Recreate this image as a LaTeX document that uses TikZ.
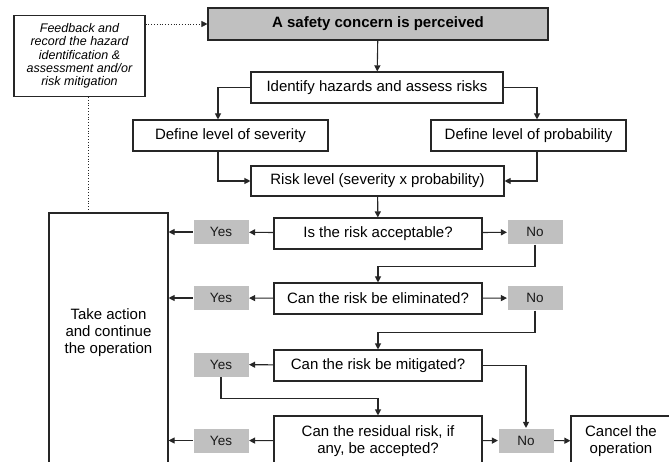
\documentclass[tikz,border=0pt]{standalone}
\usepackage{fontspec}
\setmainfont{Liberation Sans}
\usetikzlibrary{arrows.meta}
\definecolor{boxgray}{RGB}{192,192,192}

\begin{document}
\begin{tikzpicture}[x=1pt, y=-1pt, line width=1.1pt, draw=black!85, >={Triangle[length=6pt,width=6pt]},
        box/.style={draw, align=center, inner sep=0pt, font=\fontsize{15}{16.5}\selectfont},
        answer/.style={fill=boxgray, text=black!90, inner sep=0pt, minimum width=55pt, minimum height=24pt, font=\fontsize{13.5}{15}\selectfont},
        link/.style={draw, ->}]
        \useasboundingbox (0,0) rectangle (669,462);
        \clip (0,0) rectangle (669,462);

        \node[box, minimum width=131pt, minimum height=81pt, font=\fontsize{12.5}{13.3}\selectfont\itshape] (feedback) at (79.5,56) {Feedback and\\record the hazard\\identification \&\\assessment and/or\\risk mitigation};
        \node[box, fill=boxgray, minimum width=340pt, minimum height=32pt, font=\fontsize{15}{16.5}\selectfont\bfseries] (perceived) at (378,24) {A safety concern is perceived};
        \node[box, minimum width=252pt, minimum height=31pt] (identify) at (377,87.5) {Identify hazards and assess risks};
        \node[box, minimum width=195pt, minimum height=31pt] (severity) at (230.5,135.5) {Define level of severity};
        \node[box, minimum width=195pt, minimum height=31pt] (probability) at (528.5,135.5) {Define level of probability};
        \node[box, minimum width=253pt, minimum height=30pt] (risklevel) at (377.5,181) {Risk level (severity x probability)};

        \node[box, minimum width=208pt, minimum height=31pt] (acceptable) at (378,233.5) {Is the risk acceptable?};
        \node[box, minimum width=208pt, minimum height=31pt] (eliminated) at (378,298.5) {Can the risk be eliminated?};
        \node[box, minimum width=208pt, minimum height=31pt] (mitigated) at (378,365.5) {Can the risk be mitigated?};
        \node[box, minimum width=208pt, minimum height=50pt] (residual) at (378,441) {Can the residual risk, if\\any, be accepted?};
        \node[box, minimum width=100pt, minimum height=50pt] (cancel) at (621,441) {Cancel the\\operation};

        \node[box, minimum width=119pt, minimum height=260pt] (action) at (108.5,343) {};
        \node[align=center, font=\fontsize{15}{17}\selectfont] (actiontext) at (108.5,333) {Take action\\and continue\\the operation};

        \foreach \n/\y in {1/232, 2/298, 3/364.5, 4/440.5} \node[answer] (yes\n) at (221,\y) {Yes};
        \foreach \n/\x/\y in {1/535/232, 2/535/298, 3/526/440.5} \node[answer] (no\n) at (\x,\y) {No};

        \draw[->, dotted, line width=0.8pt] (feedback.east |- perceived.west) -- (perceived.west);
        \draw[dotted, line width=0.8pt] ([xshift=8.5pt]feedback.south) -- ([xshift=8.5pt]feedback.south |- action.north);

        \draw[link] (perceived) -- (identify);
        \draw[link] (identify.west) -| ([xshift=-12.5pt]severity.north);
        \draw[link] (identify.east) -| ([xshift=8.5pt]probability.north);
        \draw[link] ([xshift=-12.5pt]severity.south) |- (risklevel.west);
        \draw[link] ([xshift=8.5pt]probability.south) |- (risklevel.east);
        \draw[link] (risklevel) -- (acceptable);

        \draw[link] (acceptable) -- (yes1);
        \draw[link] (eliminated) -- (yes2);
        \draw[link] (mitigated) -- (yes3);
        \draw[link] (residual) -- (yes4);
        \foreach \n in {1, 2, 4} \draw[link] (yes\n.west) -- (yes\n.west -| action.east);

        \draw[link] (acceptable) -- (no1);
        \draw[link] (eliminated) -- (no2);
        \draw[link] (residual) -- (no3);
        \draw[link] (no1.south) -- ++(0,22) -| (eliminated.north);
        \draw[link] (no2.south) -- ++(0,22) -| (mitigated.north);
        \draw[link] (yes3.south) -- ++(0,21) -| (residual.north);
        \draw[link] (mitigated.east) -| (no3.north);
        \draw[link] (no3) -- (cancel);
    \end{tikzpicture}
\end{document}
